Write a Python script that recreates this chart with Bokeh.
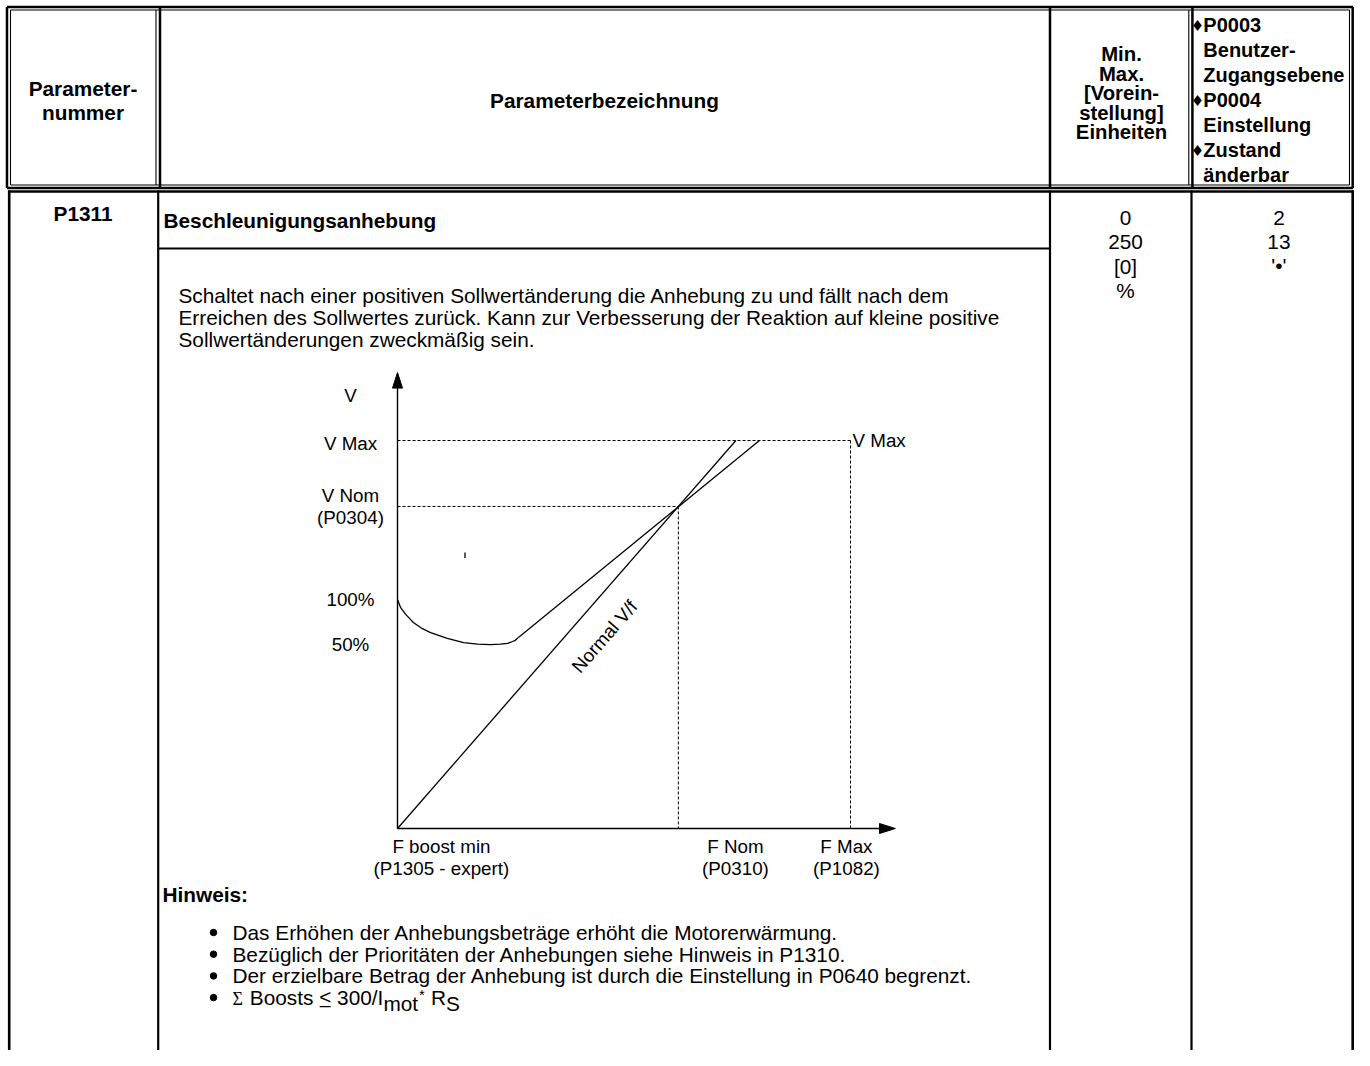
import math
from bokeh.plotting import figure
from bokeh.models import Range1d
from bokeh.embed import file_html
from bokeh.resources import INLINE
from bokeh.core.properties import value

# ---------------- table contents ----------------
head_number = ["Parameter-", "nummer"]
head_name = ["Parameterbezeichnung"]
head_range = ["Min.", "Max.", "[Vorein-", "stellung]", "Einheiten"]
head_access = ["P0003", "Benutzer-", "Zugangsebene", "P0004", "Einstellung", "Zustand", "änderbar"]
head_access_bullet = [1, 0, 0, 1, 0, 1, 0]

param_number = ["P1311"]
param_title = ["Beschleunigungsanhebung"]
param_range = ["0", "250", "[0]", "%"]
param_access = ["2", "13", "'•'"]
description = [
    "Schaltet nach einer positiven Sollwertänderung die Anhebung zu und fällt nach dem",
    "Erreichen des Sollwertes zurück. Kann zur Verbesserung der Reaktion auf kleine positive",
    "Sollwertänderungen zweckmäßig sein.",
]
note_title = ["Hinweis:"]
notes = [
    "Das Erhöhen der Anhebungsbeträge erhöht die Motorerwärmung.",
    "Bezüglich der Prioritäten der Anhebungen siehe Hinweis in P1310.",
    "Der erzielbare Betrag der Anhebung ist durch die Einstellung in P0640 begrenzt.",
]
formula_parts = ["Σ", "Boosts", "<", "300/I", "mot", "*", "R", "S"]

# ---------------- diagram values (F in % of F Max, V in % of V Max) ----------------
f_nom, f_max = 62.0, 100.0
v_nom, v_max = 83.0, 100.0
normal_f = [0.0, 74.7]
normal_v = [0.0, 100.0]
boost_f = [26.7, 79.9]
boost_v = [49.2, 100.0]
curve_f = [0.0, 0.7, 1.8, 3.5, 5.5, 7.3, 11.0, 14.6, 17.7, 20.5, 22.7, 24.3, 25.4, 26.0, 26.7]
curve_v = [59.0, 56.9, 55.2, 53.1, 51.5, 50.5, 49.0, 47.9, 47.5, 47.4, 47.5, 47.7, 48.2, 48.5, 49.2]
v_labels = ["V", "V Max", "V Nom", "(P0304)", "100%", "50%"]
v_label_levels = [111.6, 99.2, 85.8, 80.2, 59.0, 47.4]
f_labels_top = ["F boost min", "F Nom", "F Max"]
f_labels_bottom = ["(P1305 - expert)", "(P0310)", "(P1082)"]
f_label_pos = [9.7, 74.6, 99.1]
curve_label = ["Normal V/f"]

FONT = "Liberation Sans"
FS = "20.8px"
FSD = "18.8px"

W, H = 1354, 1050
p = figure(width=W, height=H, x_range=Range1d(0, W), y_range=Range1d(H, 0),
           output_backend="svg", toolbar_location=None, min_border=0,
           x_axis_location=None, y_axis_location=None)
p.grid.visible = False
p.outline_line_color = None
p.background_fill_color = "white"
p.border_fill_color = "white"

COL4 = 1191.0


def T(x):
    """page layout: the last column is slightly narrowed so the table fits the figure"""
    return x if x <= COL4 else COL4 + (x - COL4) * (W - COL4) / (1370 - COL4)


def seg(x0, y0, x1, y1, w, dash="solid"):
    p.segment(x0=[T(x0)], y0=[y0], x1=[T(x1)], y1=[y1], line_width=w, line_color="black",
              line_dash=dash, line_cap="butt")


def txt(xs, ys, texts, size=FS, bold=False, align="left", font=FONT, angle=0.0):
    p.text(x=[T(v) for v in xs], y=ys, text=texts, text_font=value(font), text_font_size=size,
           text_font_style="bold" if bold else "normal", text_align=align,
           text_baseline="middle", text_color="black", angle=angle)


# ---------------- header frame (double lines) ----------------
for (x0, y0, x1, y1) in [(6.5, 6.5, 1368.5, 6.5), (6.5, 187.5, 1368.5, 187.5),
                         (6.5, 6.5, 6.5, 187.5), (1368, 6.5, 1368, 187.5),
                         (159.5, 6.5, 159.5, 187.5), (1049.5, 6.5, 1049.5, 187.5),
                         (1192, 6.5, 1192, 187.5)]:
    seg(x0, y0, x1, y1, 2.5)
for (x0, y0, x1, y1) in [(10, 9.5, 1364.5, 9.5), (10, 184.5, 1364.5, 184.5),
                         (10, 9.5, 10, 184.5), (1364.5, 9.5, 1364.5, 184.5),
                         (155.5, 9.5, 155.5, 184.5), (1188.3, 9.5, 1188.3, 184.5)]:
    seg(x0, y0, x1, y1, 1.1)

# ---------------- body frame ----------------
seg(7.5, 191, 1369.5, 191, 2.3)
seg(8.7, 190, 8.7, 1066, 2.6)
seg(157.7, 190, 157.7, 1066, 2.2)
seg(1049.5, 190, 1049.5, 1066, 2.2)
seg(1191, 190, 1191, 1066, 2.2)
seg(1368, 190, 1368, 1066, 2.6)
seg(157.7, 248, 1049.5, 248, 2.2)

# ---------------- header texts ----------------
txt([82.5, 82.5], [88, 112], head_number, bold=True, align="center")
txt([604], [100], head_name, bold=True, align="center")
txt([1121] * 5, [53.5, 73, 92.5, 112, 131.5], head_range, bold=True, align="center", size="20.3px")
acc_y = [24.5 + 25.0 * i for i in range(len(head_access))]
txt([1204] * len(head_access), acc_y, head_access, bold=True, size="20px")
txt([1197.5] * sum(head_access_bullet),
    [y + 1 for y, b in zip(acc_y, head_access_bullet) if b],
    ["♦"] * sum(head_access_bullet), align="center", font="DejaVu Sans", size="15px")

# ---------------- body texts ----------------
txt([82.5], [213], param_number, bold=True, align="center")
txt([163], [220], param_title, bold=True)
txt([1125] * 4, [217, 241, 266, 290], param_range, align="center")
txt([1287] * 3, [217, 241, 265], param_access, align="center")
txt([178] * 3, [295, 317, 339], description)
txt([162], [894], note_title, bold=True)

bullet_y = [932, 953.7, 975.4, 997.1]
p.scatter(x=[213] * 4, y=bullet_y, size=6.5, marker="circle", fill_color="black", line_color="black")
txt([232] * 3, bullet_y[:3], notes)

# formula line: Σ Boosts ≤ 300/Imot* RS
fy = bullet_y[3]
x = 232.0
txt([x], [fy + 1], [formula_parts[0]], font="Liberation Serif", size="18px")
x += 11.5 + 5.8
txt([x], [fy], [formula_parts[1]])
x += 63.6 + 5.8
txt([x], [fy - 1], [formula_parts[2]])
seg(x + 0.5, fy + 9, x + 11.5, fy + 9, 1.3)
x += 12.1 + 5.8
txt([x], [fy], [formula_parts[3]])
x += 46.3
txt([x], [fy + 6], [formula_parts[4]])
x += 34.7 + 1
txt([x], [fy - 3], [formula_parts[5]], size="15px")
x += 6 + 6
txt([x], [fy], [formula_parts[6]])
x += 15.0
txt([x], [fy + 6], [formula_parts[7]])

# ---------------- diagram ----------------
X0, Y0, SX, SY = 397.0, 828.0, 4.53, 3.88


def dx(f):
    return X0 + f * SX


def dy(v):
    return Y0 - v * SY


# axes with arrow heads
p.line([dx(0), dx(0)], [dy(0), dy(114.0)], line_width=1.4, line_color="black")
p.line([dx(0), dx(106.5)], [dy(0), dy(0)], line_width=1.4, line_color="black")
p.patch([dx(0), dx(0) - 5, dx(0) + 5], [dy(117.5), dy(113.5), dy(113.5)], color="black")
p.patch([dx(109.9), dx(106.4), dx(106.4)], [dy(0), dy(0) - 5, dy(0) + 5], color="black")

# dashed guides
dash = "3 2"
p.line([dx(0), dx(f_max)], [dy(v_max), dy(v_max)], line_width=1, line_color="black", line_dash=dash)
p.line([dx(f_max), dx(f_max)], [dy(v_max), dy(0)], line_width=1, line_color="black", line_dash=dash)
p.line([dx(0), dx(f_nom)], [dy(v_nom), dy(v_nom)], line_width=1, line_color="black", line_dash=dash)
p.line([dx(f_nom), dx(f_nom)], [dy(v_nom), dy(0)], line_width=1, line_color="black", line_dash=dash)

# characteristic lines
p.line([dx(f) for f in normal_f], [dy(v) for v in normal_v], line_width=1.3, line_color="black")
p.line([dx(f) for f in boost_f], [dy(v) for v in boost_v], line_width=1.3, line_color="black")
p.line([dx(f) for f in curve_f], [dy(v) for v in curve_v], line_width=1.3, line_color="black")

# small stray mark
seg(464.5, 552, 464.5, 557.5, 1.3)

# labels
txt([350] * len(v_labels), [dy(v) for v in v_label_levels], v_labels, size=FSD, align="center")
txt([dx(f_max) + 2], [dy(v_max)], ["V Max"], size=FSD)
txt([dx(f) for f in f_label_pos], [846] * 3, f_labels_top, size=FSD, align="center")
txt([dx(f) for f in f_label_pos], [868] * 3, f_labels_bottom, size=FSD, align="center")
ang = math.atan2(v_nom * SY, f_nom * SX)
txt([604], [636], curve_label, size=FSD, align="center", angle=ang)

open("out.html", "w").write(file_html(p, INLINE))
